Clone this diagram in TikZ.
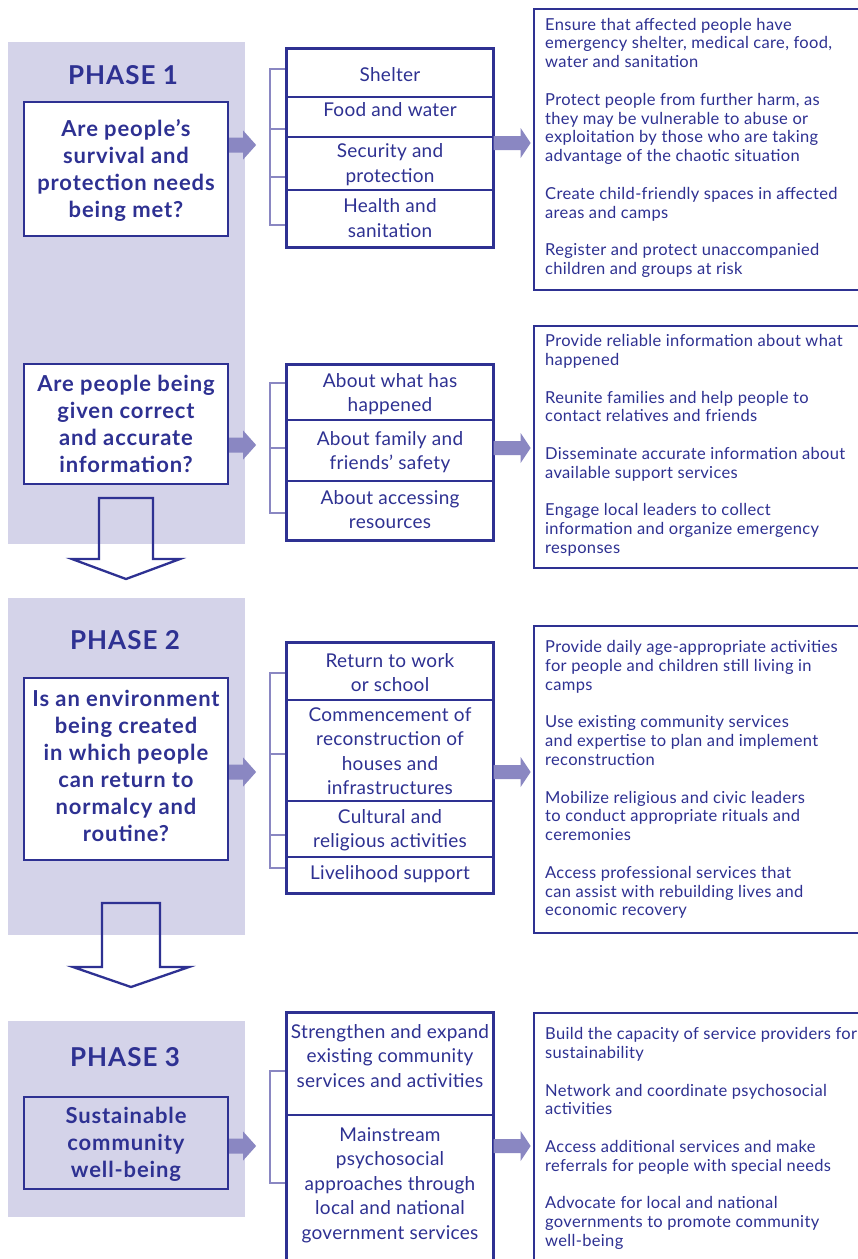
\documentclass[tikz,border=0pt]{standalone}
\usepackage{fontspec}
\setmainfont{Lato}
\newfontfamily\listfont{Lato}[LetterSpace=2.0]
\newfontfamily\itemfont{Lato}[LetterSpace=1.5]
\newfontfamily\qfont{Lato}[LetterSpace=4.0]
\usetikzlibrary{calc}
\definecolor{navy}{RGB}{46,49,146}
\definecolor{lav}{RGB}{212,211,233}
\definecolor{arr}{RGB}{138,135,194}
\newcommand\smallfat[1]{\fill[arr] (#1) ++(0,-7.5) -- ++(14,0) -- ++(0,-7) -- ++(13,14.5) -- ++(-13,14.5) -- ++(0,-7) -- ++(-14,0) -- cycle;}
\newcommand\bigfat[1]{\fill[arr] (#1) ++(0,-7) -- ++(27,0) -- ++(0,-8) -- ++(10,15) -- ++(-10,15) -- ++(0,-8) -- ++(-27,0) -- cycle;}
\begin{document}
\begin{tikzpicture}[x=1pt,y=-1pt,
  phasebg/.style={fill=lav,draw=none},
  ttl/.style={text=navy,font=\qfont\bfseries\fontsize{26}{30}\selectfont,inner sep=0pt},
  qbox/.style={draw=navy,line width=2.3pt,fill=white,inner sep=0pt,minimum width=204pt},
  qtxt/.style={text=navy,font=\qfont\bfseries\fontsize{22}{27}\selectfont,align=center,inner sep=0pt,execute at begin node=\strut,execute at end node=\strut},
  cell/.style={draw=navy,line width=1.2pt,minimum width=206pt,inner sep=0pt},
  itxt/.style={text=navy,font=\itemfont\fontsize{19}{24.5}\selectfont,align=center,inner sep=0pt,execute at begin node=\strut,execute at end node=\strut},
  outer/.style={draw=navy,line width=2.4pt},
  lbox/.style={draw=navy,line width=2.3pt,anchor=north west,minimum width=360pt,inner sep=0pt},
  ltxt/.style={text=navy,font=\listfont\fontsize{16.5}{18.8}\selectfont,align=left,inner sep=0pt,anchor=north west,execute at begin node=\strut},
  brk/.style={draw=arr,line width=2.5pt},
  down/.style={draw=navy,line width=2.3pt,line join=miter}
]
\useasboundingbox (0,0) rectangle (858,1259);
\clip (0,0) rectangle (858,1259);
\fill[white] (0,0) rectangle (858,1259);

% phase backgrounds
\path[phasebg] (8,42) rectangle (245,544);
\path[phasebg] (8,598) rectangle (245,935);
\path[phasebg] (8,1021) rectangle (245,1217);

% titles
\node[ttl] (t1) at (123,75) {PHASE 1};
\node[ttl] (t2) at (125,640) {PHASE 2};
\node[ttl] (t3) at (125,1057) {PHASE 3};

% question boxes
\node[qbox,minimum height=134pt] (q1) at (126,169) {};
\node[qtxt] (q1t) at (126,172.75) {Are people’s\\survival and\\protection needs\\being met?};
\node[qbox,minimum height=120pt] (q2) at (126,424) {};
\node[qtxt] (q2t) at (126,427.75) {Are people being\\given correct\\and accurate\\information?};
\node[qbox,minimum height=182pt] (q3) at (126,769) {};
\node[qtxt] (q3t) at (126,769.75) {Is an environment\\being created\\in which people\\can return to\\normalcy and\\routine?};
\node[qbox,minimum height=92pt,fill=none] (q4) at (126,1143) {};
\node[qtxt] (q4t) at (126,1146) {Sustainable\\community\\well-being};

% down arrows
\draw[down] (99,498) -- (99,559) -- (72,559) -- (126,579) -- (180,559) -- (153,559) -- (153,498) -- cycle;
\draw[down] (102,903) -- (102,967) -- (73,967) -- (131,987) -- (189,967) -- (160,967) -- (160,903) -- cycle;

% brackets
\draw[brk] (287,69) -- (270,69) -- (270,225) -- (287,225);
\draw[brk] (270,129) -- (287,129);
\draw[brk] (270,177) -- (287,177);
\draw[brk] (287,383) -- (270,383) -- (270,513) -- (287,513);
\draw[brk] (270,448) -- (287,448);
\draw[brk] (287,673) -- (270,673) -- (270,868) -- (287,868);
\draw[brk] (270,754) -- (287,754);
\draw[brk] (270,835) -- (287,835);
\draw[brk] (287,1071) -- (270,1071) -- (270,1183) -- (287,1183);

% item boxes phase 1 q1
\node[cell,minimum height=48pt] (i1a) at (390,73) {};
\node[cell,minimum height=40pt] (i1b) at (390,117) {};
\node[cell,minimum height=53pt] (i1c) at (390,163.5) {};
\node[cell,minimum height=57pt] (i1d) at (390,218.5) {};
\draw[outer] (i1a.north west) rectangle (i1d.south east);
\node[itxt] (i1at) at (390,77) {Shelter};
\node[itxt] (i1bt) at (390,112) {Food and water};
\node[itxt] (i1ct) at (390,166.5) {Security and\\protection};
\node[itxt] (i1dt) at (390,221.5) {Health and\\sanitation};

% item boxes phase 1 q2
\node[cell,minimum height=55pt] (i2a) at (390,392.5) {};
\node[cell,minimum height=61pt] (i2b) at (390,450.5) {};
\node[cell,minimum height=59pt] (i2c) at (390,510.5) {};
\draw[outer] (i2a.north west) rectangle (i2c.south east);
\node[itxt] (i2at) at (390,396) {About what has\\happened};
\node[itxt] (i2bt) at (390,454) {About family and\\friends’ safety};
\node[itxt] (i2ct) at (390,513) {About accessing\\resources};

% item boxes phase 2
\node[cell,minimum height=57pt] (i3a) at (390,671.5) {};
\node[cell,minimum height=101pt] (i3b) at (390,750.5) {};
\node[cell,minimum height=56pt] (i3c) at (390,829) {};
\node[cell,minimum height=36pt] (i3d) at (390,875) {};
\draw[outer] (i3a.north west) rectangle (i3d.south east);
\node[itxt] (i3at) at (390,676) {Return to work\\or school};
\node[itxt] (i3bt) at (390,755) {Commencement of\\reconstruction of\\houses and\\infrastructures};
\node[itxt] (i3ct) at (390,832) {Cultural and\\religious activities};
\node[itxt] (i3dt) at (390,875) {Livelihood support};

% item boxes phase 3
\node[cell,minimum height=102pt] (i4a) at (390,1064) {};
\node[cell,minimum height=160pt] (i4b) at (390,1195) {};
\draw[outer] (i4a.north west) rectangle (i4b.south east);
\node[itxt] (i4at) at (390,1059.5) {Strengthen and expand\\existing community\\services and activities};
\node[itxt] (i4bt) at (390,1187) {Mainstream\\psychosocial\\approaches through\\local and national\\government services};

% small arrows (question -> items)
\coordinate (s1) at (q1.east |- 0,145);
\coordinate (s2) at (q2.east |- 0,445);
\coordinate (s3) at (q3.east |- 0,772);
\coordinate (s4) at (q4.east |- 0,1146);
\smallfat{s1}
\smallfat{s2}
\smallfat{s3}
\smallfat{s4}

% list boxes
\node[lbox,minimum height=281pt] (r1) at (533,8) {};
\node[lbox,minimum height=242pt] (r2) at (533,325) {};
\node[lbox,minimum height=307pt] (r3) at (533,625) {};
\node[lbox,minimum height=270pt] (r4) at (533,1012) {};

% big arrows (items -> actions)
\coordinate (b1) at (i1a.east |- 0,143);
\coordinate (b2) at (i2a.east |- 0,448);
\coordinate (b3) at (i3a.east |- 0,772);
\coordinate (b4) at (i4a.east |- 0,1146);
\bigfat{b1}
\bigfat{b2}
\bigfat{b3}
\bigfat{b4}

% list texts
\node[ltxt] (l1) at (545,17.8) {Ensure that affected people have\\emergency shelter, medical care, food,\\water and sanitation\\[18.8pt]Protect people from further harm, as\\they may be vulnerable to abuse or\\exploitation by those who are taking\\advantage of the chaotic situation\\[18.8pt]Create child-friendly spaces in affected\\areas and camps\\[18.8pt]Register and protect unaccompanied\\children and groups at risk};
\node[ltxt] (l2) at (545,334.3) {Provide reliable information about what\\happened\\[18.8pt]Reunite families and help people to\\contact relatives and friends\\[18.8pt]Disseminate accurate information about\\available support services\\[18.8pt]Engage local leaders to collect\\information and organize emergency\\responses};
\node[ltxt] (l3) at (545,640.3) {Provide daily age-appropriate activities\\for people and children still living in\\camps\\[18.8pt]Use existing community services\\and expertise to plan and implement\\reconstruction\\[18.8pt]Mobilize religious and civic leaders\\to conduct appropriate rituals and\\ceremonies\\[18.8pt]Access professional services that\\can assist with rebuilding lives and\\economic recovery};
\node[ltxt] (l4) at (545,1027.3) {Build the capacity of service providers for\\sustainability\\[18.8pt]Network and coordinate psychosocial\\activities\\[18.8pt]Access additional services and make\\referrals for people with special needs\\[18.8pt]Advocate for local and national\\governments to promote community\\well-being};
\end{tikzpicture}
\end{document}
